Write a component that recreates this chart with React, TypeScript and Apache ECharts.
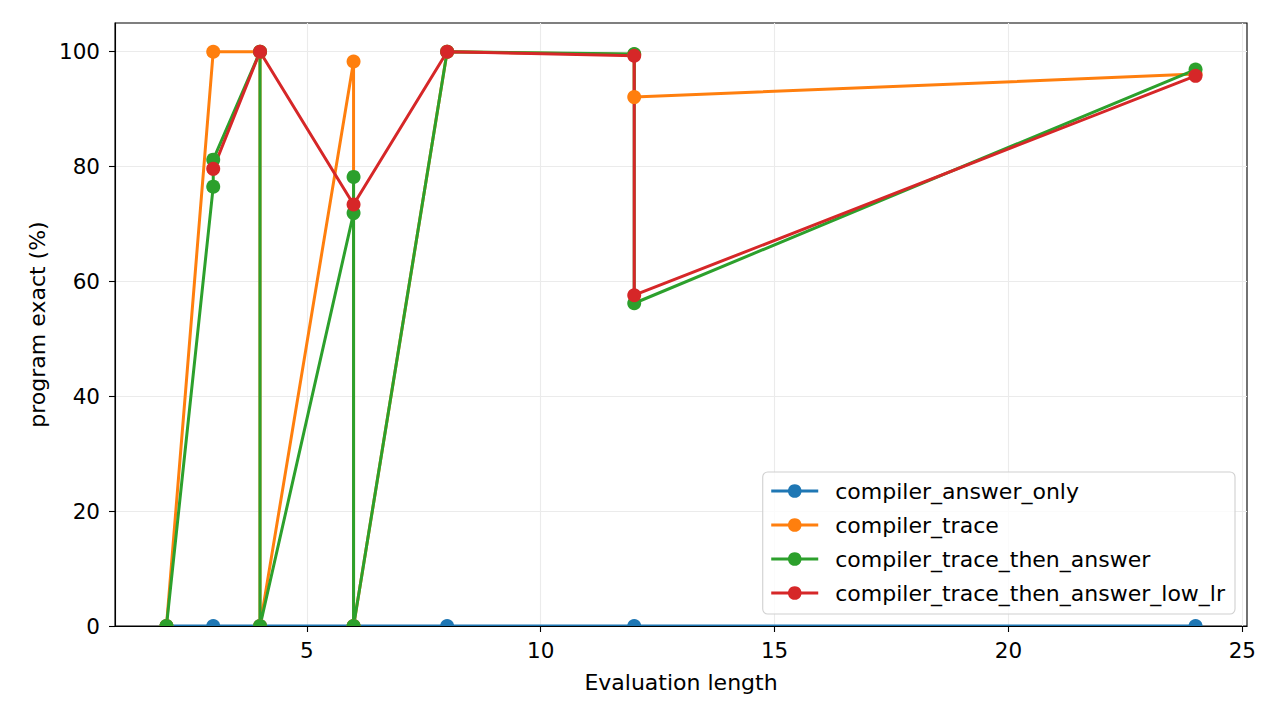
import React, { useEffect, useRef } from "react";
import * as echarts from "echarts";

const seriesNames = [
  "compiler_answer_only",
  "compiler_trace",
  "compiler_trace_then_answer",
  "compiler_trace_then_answer_low_lr",
];
const colors = ["#1f77b4", "#ff7f0e", "#2ca02c", "#d62728"];

// evaluation length / program exact (%) per run
const answerOnlyX = [2, 3, 4, 6, 8, 12, 24];
const answerOnlyY = [0, 0, 0, 0, 0, 0, 0];
const traceX = [2, 3, 4, 4, 6, 6, 8, 12, 12, 24];
const traceY = [0, 100, 100, 0, 98.3, 0, 100, 99.5, 92.1, 96.1];
const thenAnswerX = [2, 3, 3, 4, 4, 6, 6, 6, 8, 12, 12, 24];
const thenAnswerY = [0, 76.5, 81.2, 100, 0, 71.9, 78.2, 0, 100, 99.6, 56.2, 96.9];
const lowLrX = [3, 4, 6, 8, 12, 12, 24];
const lowLrY = [79.6, 100, 73.4, 100, 99.3, 57.6, 95.8];

const xTicks = [5, 10, 15, 20, 25];
const yTicks = [0, 20, 40, 60, 80, 100];

const FONT = "DejaVu Sans";
const FS = 21.5;
const FS_TEXT = 22;

const App: React.FC = () => {
  const chartRef = useRef<HTMLDivElement>(null);

  useEffect(() => {
    if (!chartRef.current) return;
    const chart = echarts.init(chartRef.current, undefined, { renderer: "svg" });

    const runs = [
      [answerOnlyX, answerOnlyY],
      [traceX, traceY],
      [thenAnswerX, thenAnswerY],
      [lowLrX, lowLrY],
    ];

    const series = runs.map(([xs, ys], k) => ({
      name: seriesNames[k],
      type: "line",
      xAxisIndex: 0,
      data: xs.map((x, i) => [x, ys[i]]),
      symbol: "circle",
      symbolSize: 14,
      lineStyle: { color: colors[k], width: 3 },
      itemStyle: { color: colors[k] },
      emphasis: { disabled: true },
    }));

    chart.setOption({
      animation: false,
      textStyle: { fontFamily: FONT },
      grid: {
        left: 115,
        right: 33,
        top: 23,
        bottom: 94,
        show: true,
        borderColor: "#000",
        borderWidth: 1.1,
      },
      legend: {
        orient: "vertical",
        right: 45,
        bottom: 106,
        itemWidth: 47,
        itemHeight: 17,
        itemGap: 12,
        padding: [8, 10, 10, 7],
        borderColor: "#d0d0d0",
        borderWidth: 1.1,
        borderRadius: 5,
        backgroundColor: "rgba(255,255,255,0.8)",
        lineStyle: { width: 3 },
        textStyle: {
          fontFamily: FONT,
          fontSize: FS_TEXT,
          lineHeight: 21,
          color: "#000",
          padding: [0, 0, 0, 12],
        },
        data: seriesNames,
      },
      xAxis: [
        {
          type: "value",
          min: 0.9,
          max: 25.1,
          axisLine: { show: false },
          axisTick: { show: false, customValues: xTicks },
          axisLabel: { show: false, customValues: xTicks },
          splitLine: { show: true, lineStyle: { color: "#ebebeb", width: 1.1 } },
        },
        {
          type: "value",
          position: "bottom",
          min: 0.9,
          max: 25.1,
          z: 10,
          axisLine: { show: true, onZero: false, lineStyle: { color: "#000", width: 1.1 } },
          axisTick: { show: true, length: 6, customValues: xTicks, lineStyle: { color: "#000", width: 1.1 } },
          axisLabel: { customValues: xTicks, margin: 13, fontSize: FS, color: "#000", fontFamily: FONT },
          splitLine: { show: false },
          name: "Evaluation length",
          nameLocation: "middle",
          nameGap: 45,
          nameTextStyle: { fontSize: FS_TEXT, color: "#000", fontFamily: FONT },
        },
      ],
      yAxis: {
        type: "value",
        min: 0,
        max: 105,
        interval: 20,
        axisLine: { show: true, lineStyle: { color: "#000", width: 1.1 } },
        axisTick: { show: true, length: 6, customValues: yTicks, lineStyle: { color: "#000", width: 1.1 } },
        axisLabel: { customValues: yTicks, margin: 15, fontSize: FS, color: "#000", fontFamily: FONT },
        splitLine: { show: true, lineStyle: { color: "#ebebeb", width: 1.1 } },
        name: "program exact (%)",
        nameLocation: "middle",
        nameGap: 64,
        nameRotate: 90,
        nameTextStyle: { fontSize: FS_TEXT, color: "#000", fontFamily: FONT },
      },
      // clip the markers sitting on y = 0, like the axes clipping in the original
      graphic: [
        {
          type: "rect",
          z: 5,
          shape: { x: 115, y: 627, width: 1132, height: 10 },
          style: { fill: "#fff" },
          silent: true,
        },
      ],
      series,
    });

    return () => {
      chart.dispose();
    };
  }, []);

  return (
    <div
      ref={chartRef}
      style={{ position: "fixed", left: 0, top: 0, width: "1280px", height: "720px", background: "#fff" }}
    />
  );
};

export default App;
